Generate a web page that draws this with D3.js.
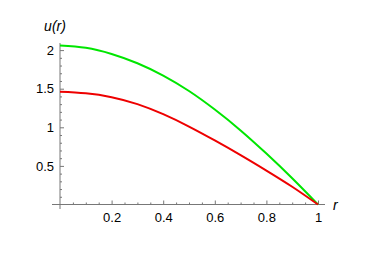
<!DOCTYPE html>
<html>
<head>
<meta charset="utf-8">
<script src="https://cdn.jsdelivr.net/npm/d3@7"></script>
<style>
  body { margin: 0; background: #fff; }
  svg text { font-family: "Liberation Sans", Arial, sans-serif; }
</style>
</head>
<body>
<div id="chart"></div>
<script>
// radius values along the x axis
const rValues = [0, 0.1, 0.2, 0.3, 0.4, 0.5, 0.6, 0.7, 0.8, 0.9, 1.0];
const greenU = [2.06, 2.03, 1.95, 1.83, 1.67, 1.47, 1.23, 0.96, 0.66, 0.34, 0];
const redU = [1.46, 1.44, 1.39, 1.30, 1.17, 1.01, 0.83, 0.64, 0.44, 0.23, 0];
const xTickLabels = [0.2, 0.4, 0.6, 0.8, 1];
const yTickLabels = [0.5, 1, 1.5, 2];

const W = 374, H = 264;

const svg = d3.select('#chart').append('svg')
    .attr('width', W)
    .attr('height', H);

const x = d3.scaleLinear().domain([0, 1]).range([60, 318]);
const y = d3.scaleLinear().domain([0, 2]).range([204.5, 50.1]);

const axisColor = '#777';
const labelFont = '"Liberation Sans", Arial, sans-serif';

// axis lines (Mathematica style, slightly overshooting)
svg.append('line')
    .attr('x1', 52).attr('x2', 325)
    .attr('y1', y(0)).attr('y2', y(0))
    .attr('stroke', axisColor);
svg.append('line')
    .attr('x1', x(0)).attr('x2', x(0))
    .attr('y1', 43).attr('y2', 209)
    .attr('stroke', axisColor);

// minor ticks
const xMinor = d3.range(1, 20).map(i => i * 0.05).filter(v => Math.abs(v * 5 - Math.round(v * 5)) > 1e-6);
const yMinor = d3.range(1, 21).map(i => i / 10).filter(v => Math.abs(v * 2 - Math.round(v * 2)) > 1e-6);

svg.append('g')
    .attr('transform', `translate(0,${y(0)})`)
    .call(d3.axisBottom(x).tickValues(xMinor).tickSize(-2).tickFormat(''))
    .call(g => g.select('.domain').remove())
    .call(g => g.selectAll('line').attr('stroke', axisColor));

svg.append('g')
    .attr('transform', `translate(${x(0)},0)`)
    .call(d3.axisLeft(y).tickValues(yMinor).tickSize(-2).tickFormat(''))
    .call(g => g.select('.domain').remove())
    .call(g => g.selectAll('line').attr('stroke', axisColor));

// major ticks with labels
svg.append('g')
    .attr('transform', `translate(0,${y(0)})`)
    .call(d3.axisBottom(x).tickValues(xTickLabels).tickSize(-4).tickPadding(8).tickFormat(d3.format('')))
    .call(g => g.select('.domain').remove())
    .call(g => g.selectAll('line').attr('stroke', axisColor))
    .call(g => g.selectAll('text').attr('fill', '#000').style('font-size', '13px').style('font-family', labelFont));

svg.append('g')
    .attr('transform', `translate(${x(0)},0)`)
    .call(d3.axisLeft(y).tickValues(yTickLabels).tickSize(-4).tickPadding(6).tickFormat(d3.format('')))
    .call(g => g.select('.domain').remove())
    .call(g => g.selectAll('line').attr('stroke', axisColor))
    .call(g => g.selectAll('text').attr('fill', '#000').style('font-size', '13px').style('font-family', labelFont));

// axis labels
svg.append('text')
    .attr('x', 55).attr('y', 31)
    .attr('text-anchor', 'middle')
    .attr('font-size', '14px')
    .attr('font-style', 'italic')
    .text('u(r)');

svg.append('text')
    .attr('x', 333).attr('y', 210)
    .attr('font-size', '14px')
    .attr('font-style', 'italic')
    .text('r');

// curves
const line = d3.line()
    .x((d, i) => x(rValues[i]))
    .y(d => y(d))
    .curve(d3.curveNatural);

svg.append('path')
    .datum(greenU)
    .attr('fill', 'none')
    .attr('stroke', '#00e600')
    .attr('stroke-width', 2)
    .attr('d', line);

svg.append('path')
    .datum(redU)
    .attr('fill', 'none')
    .attr('stroke', '#ee0000')
    .attr('stroke-width', 2)
    .attr('d', line);
</script>
</body>
</html>
